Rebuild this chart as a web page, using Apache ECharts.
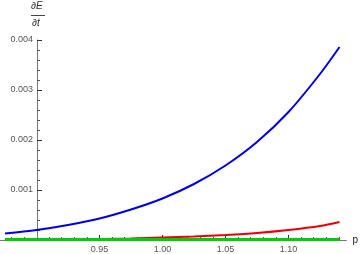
<!DOCTYPE html>
<html><head><meta charset="utf-8">
<script src="https://cdn.jsdelivr.net/npm/echarts@6/dist/echarts.min.js"></script>
<style>html,body{margin:0;padding:0;background:#fff}#c{width:361px;height:254px}</style>
</head><body><div id="c"></div>
<script>
const pValues = [0.875, 0.9, 0.925, 0.95, 0.975, 1.0, 1.025, 1.05, 1.075, 1.1, 1.125, 1.1405];
const blueValues = [0.00013, 0.0002, 0.0003, 0.00043, 0.00061, 0.00083, 0.00112, 0.00149, 0.00196, 0.00256, 0.00332, 0.00386];
const redValues = [0.00001, 0.000012, 0.000015, 0.00002, 0.00003, 0.00005, 0.00007, 0.0001, 0.00014, 0.0002, 0.00028, 0.00036];
const greenValues = [0.000008, 0.000008, 0.000008, 0.000008, 0.000008, 0.000008, 0.000008, 0.000008, 0.000008, 0.000008, 0.000008, 0.000008];
const xTickLabels = [0.95, 1.0, 1.05, 1.1];
const xMinorTicks = [0.88, 0.89, 0.91, 0.92, 0.93, 0.94, 0.96, 0.97, 0.98, 0.99, 1.01, 1.02, 1.03, 1.04, 1.06, 1.07, 1.08, 1.09, 1.11, 1.12, 1.13, 1.14];
const yTickLabels = [0.001, 0.002, 0.003, 0.004];
const yMinorTicks = [0.0002, 0.0004, 0.0006, 0.0008, 0.0012, 0.0014, 0.0016, 0.0018, 0.0022, 0.0024, 0.0026, 0.0028, 0.0032, 0.0034, 0.0036, 0.0038];

const pair = ys => pValues.map((p, i) => [p, ys[i]]);
const axisColor = '#777';
const labelColor = '#555';
const chart = echarts.init(document.getElementById('c'), null, {renderer: 'canvas'});
chart.setOption({
  animation: false,
  grid: {left: 0, right: 14, top: 40, bottom: 14},
  xAxis: [{
    type: 'value', min: 0.871, max: 1.146, position: 'bottom',
    axisLine: {show: true, onZero: false, lineStyle: {color: axisColor, width: 1}},
    axisTick: {show: true, inside: true, length: 5, customValues: xTickLabels, lineStyle: {color: '#333'}},
    axisLabel: {show: true, customValues: xTickLabels, margin: 5, fontSize: 9, color: labelColor, fontFamily: 'Liberation Sans',
      formatter: v => v.toFixed(2)},
    splitLine: {show: false},
    name: 'p', nameLocation: 'end', nameGap: 6,
    nameTextStyle: {fontSize: 10, color: '#222', fontFamily: 'Liberation Sans', verticalAlign: 'middle'}
  }, {
    type: 'value', min: 0.871, max: 1.146, position: 'bottom',
    axisLine: {show: false, onZero: false},
    axisTick: {show: true, inside: true, length: 3, customValues: xMinorTicks, lineStyle: {color: '#555'}},
    axisLabel: {show: false},
    splitLine: {show: false}
  }],
  yAxis: [{
    type: 'value', min: 0, max: 0.004, position: 'left', offset: -37,
    axisLine: {show: true, onZero: false, lineStyle: {color: axisColor, width: 1}},
    axisTick: {show: true, inside: true, length: 5, customValues: yTickLabels, lineStyle: {color: '#333'}},
    axisLabel: {show: true, customValues: yTickLabels, margin: 4, fontSize: 9, color: labelColor, fontFamily: 'Liberation Sans',
      formatter: v => v.toFixed(3)},
    splitLine: {show: false}
  }, {
    type: 'value', min: 0, max: 0.004, position: 'left', offset: -37,
    axisLine: {show: false, onZero: false},
    axisTick: {show: true, inside: true, length: 3, customValues: yMinorTicks, lineStyle: {color: '#555'}},
    axisLabel: {show: false},
    splitLine: {show: false}
  }],
  graphic: [
    {type: 'text', left: 31, top: 1, style: {text: '∂E', font: 'italic 10px "Liberation Sans"', fill: '#333'}},
    {type: 'line', shape: {x1: 31, y1: 15.5, x2: 45, y2: 15.5}, style: {stroke: '#444', lineWidth: 1}},
    {type: 'text', left: 32, top: 18, style: {text: '∂t', font: 'italic 10px "Liberation Sans"', fill: '#333'}}
  ],
  series: [
    {type: 'line', data: pair(blueValues), smooth: 0.3, showSymbol: false, xAxisIndex: 0, yAxisIndex: 0,
      lineStyle: {color: '#0000ee', width: 2}},
    {type: 'line', data: pair(redValues), smooth: 0.3, showSymbol: false, xAxisIndex: 0, yAxisIndex: 0,
      lineStyle: {color: '#ee0000', width: 2}},
    {type: 'line', data: pair(greenValues), smooth: 0.3, showSymbol: false, xAxisIndex: 0, yAxisIndex: 0,
      lineStyle: {color: '#00d000', width: 3}}
  ]
});
</script></body></html>
